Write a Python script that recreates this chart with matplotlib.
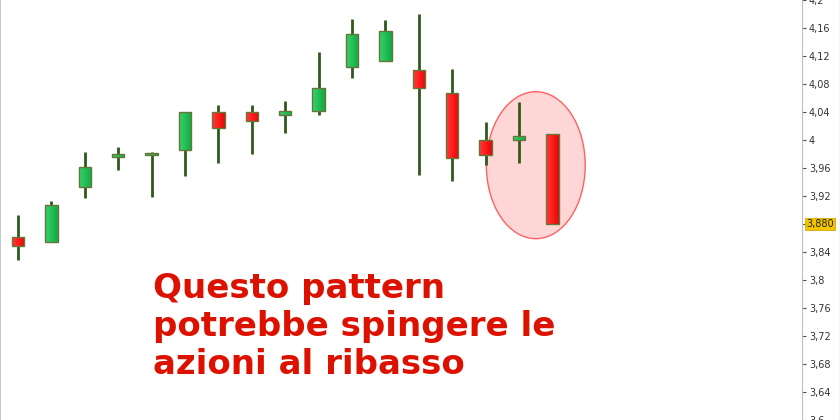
#!/usr/bin/env python3
import matplotlib
matplotlib.use("Agg")
import matplotlib.pyplot as plt
import numpy as np
from matplotlib.colors import LinearSegmentedColormap
from matplotlib.patches import Ellipse, Rectangle
from matplotlib.ticker import FixedLocator, FuncFormatter

# candle data
opens = [3.861, 3.854, 3.933, 3.977, 3.979, 3.986, 4.040, 4.040, 4.036,
         4.041, 4.104, 4.113, 4.100, 4.067, 4.000, 4.000, 4.009]
highs = [3.893, 3.913, 3.983, 3.990, 3.983, 4.040, 4.050, 4.050, 4.056,
         4.126, 4.173, 4.171, 4.180, 4.101, 4.026, 4.054, 4.009]
lows = [3.829, 3.854, 3.917, 3.957, 3.919, 3.949, 3.967, 3.980, 4.010,
        4.036, 4.089, 4.113, 3.950, 3.941, 3.964, 3.967, 3.880]
closes = [3.849, 3.907, 3.961, 3.979, 3.981, 4.040, 4.017, 4.027, 4.041,
          4.074, 4.151, 4.156, 4.074, 3.974, 3.979, 4.006, 3.880]

last_price = 3.880
y_ticks = [3.60, 3.64, 3.68, 3.72, 3.76, 3.80, 3.84, 3.88, 3.92, 3.96,
           4.00, 4.04, 4.08, 4.12, 4.16, 4.20]
caption = "Questo pattern\npotrebbe spingere le\nazioni al ribasso"

UP_CMAP = LinearSegmentedColormap.from_list("up", ["#3cd06c", "#22c058", "#12a843"])
DOWN_CMAP = LinearSegmentedColormap.from_list("down", ["#ff3a3a", "#ff1c1c", "#e00808"])
WICK = "#2e5a1c"
EDGE = "#66763a"


def price_label(v, _pos=None):
  if abs(v - last_price) < 1e-6:
    return ""
  s = f"{v:.2f}".rstrip("0").rstrip(".")
  return s.replace(".", ",")


fig = plt.figure(figsize=(8.4, 4.2), dpi=100)
ax = fig.add_axes([0, 0, 802 / 840, 1])

gradient = np.linspace(0, 1, 64).reshape(1, -1)
body_w = 0.37
for i, (o, h, l, c) in enumerate(zip(opens, highs, lows, closes)):
  ax.plot([i, i], [l, h], color=WICK, linewidth=2.0, solid_capstyle="butt", zorder=3)
  bottom = min(o, c)
  height = abs(c - o)
  if height < 0.004:
    bottom = (o + c) / 2 - 0.002
    height = 0.004
  cmap = UP_CMAP if c >= o else DOWN_CMAP
  rect = Rectangle((i - body_w / 2, bottom), body_w, height,
                   facecolor="none", edgecolor=EDGE, linewidth=1.0, zorder=5)
  ax.add_patch(rect)
  img = ax.imshow(gradient, cmap=cmap, aspect="auto", zorder=4,
                  extent=(i - body_w / 2, i + body_w / 2, bottom, bottom + height))
  img.set_clip_path(rect)

# highlight of the last two candles
ax.add_patch(Ellipse((15.5, 3.964), 2.96, 0.21, facecolor="#ffd6d6",
                     edgecolor="#ff6060", linewidth=1.0, zorder=1))

ax.set_xlim(-0.54, 23.47)
ax.set_ylim(3.6, 4.2)

ax.yaxis.tick_right()
ax.yaxis.set_major_locator(FixedLocator(y_ticks))
ax.yaxis.set_major_formatter(FuncFormatter(price_label))
ax.tick_params(axis="y", direction="out", length=3, width=0.8, color="#555555",
               labelsize=7, labelcolor="#333333", pad=2)
ax.set_xticks([])

for side in ("top", "bottom"):
  ax.spines[side].set_visible(False)
ax.spines["right"].set_color("#b4c0cc")
ax.spines["left"].set_color("#b4c0cc")
ax.spines["left"].set_linewidth(1.2)

ax.text(1.005, last_price, "3,880", transform=ax.get_yaxis_transform(),
        ha="left", va="center", fontsize=7, color="#222222",
        bbox=dict(boxstyle="square,pad=0.15", facecolor="#f2c500", edgecolor="#d9a800",
                  linewidth=0.6), clip_on=False)

ax.text(153 / 802, 1 - 272 / 420, caption, transform=ax.transAxes, ha="left", va="top",
        fontsize=24.5, fontweight="bold", color="#dd1100", linespacing=1.2,
        family="DejaVu Sans")

fig.add_artist(plt.Line2D([839.5 / 840, 839.5 / 840], [0, 1], color="#c8d0d8",
                          linewidth=1, transform=fig.transFigure))

fig.savefig("out.png", dpi=100)
